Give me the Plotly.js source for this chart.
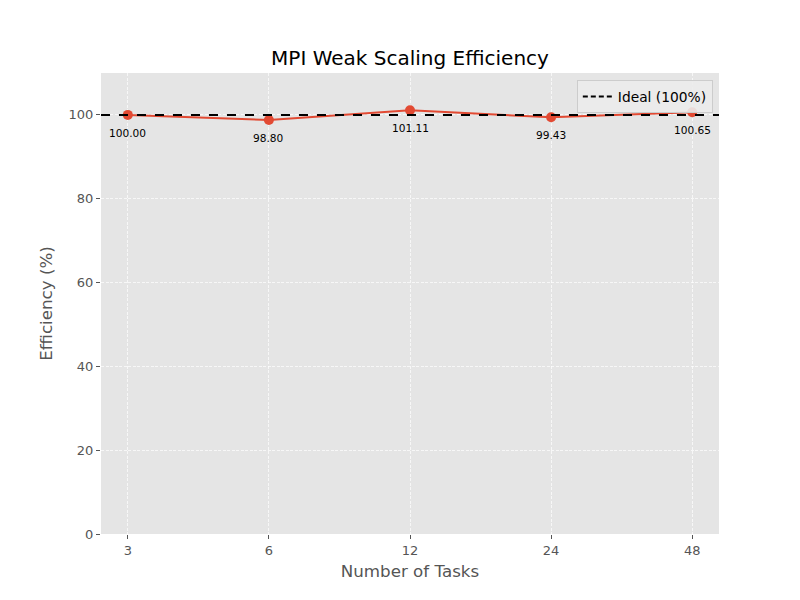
<!DOCTYPE html>
<html>
<head>
<meta charset="utf-8">
<script src="https://cdn.plot.ly/plotly-3.0.1.min.js"></script>
<style>html,body{margin:0;padding:0;background:#fff;}#chart{width:800px;height:600px;}</style>
</head>
<body>
<div id="chart"></div>
<script>
const tasks = [3, 6, 12, 24, 48];
const efficiency = [100.00, 98.80, 101.11, 99.43, 100.65];
const idealValue = 100;
const idealName = 'Ideal (100%)';
const yTicks = [0, 20, 40, 60, 80, 100];

const lineTrace = {
  x: tasks, y: efficiency, type: 'scatter', mode: 'lines+markers',
  line: {color: '#E24A33', width: 2},
  marker: {color: '#E24A33', size: 10},
  showlegend: false, hoverinfo: 'x+y'
};
const idealLegend = {
  x: [null], y: [null], type: 'scatter', mode: 'lines',
  name: idealName, line: {color: 'black', width: 2, dash: '5px,3px'}, showlegend: true
};

const log2 = Math.log10(2);
const xr = [Math.log10(tasks[0]) - 0.19 * log2, Math.log10(tasks[tasks.length-1]) + 0.19 * log2];

const annotations = tasks.map((t, i) => ({
  x: Math.log10(t), y: efficiency[i], xref: 'x', yref: 'y',
  text: efficiency[i].toFixed(2), showarrow: false, yshift: -18,
  font: {family: 'DejaVu Sans', size: 10.6, color: 'black'}
}));

const layout = {
  width: 800, height: 600,
  paper_bgcolor: 'white', plot_bgcolor: '#E5E5E5',
  margin: {l: 101, r: 81, t: 73, b: 66},
  font: {family: 'DejaVu Sans', color: '#555555'},
  title: {text: 'MPI Weak Scaling Efficiency', font: {size: 20, color: 'black', family: 'DejaVu Sans'}, xref: 'paper', x: 0.5, xanchor: 'center', y: 1 - 58/600, yanchor: 'middle'},
  xaxis: {
    type: 'log', range: xr, tickvals: tasks, ticktext: tasks.map(String),
    showgrid: true, gridcolor: 'white', gridwidth: 0.7, griddash: '3px,1.5px',
    ticks: 'outside', ticklen: 4, tickcolor: '#555555', zeroline: false, showline: false,
    tickfont: {size: 13, color: '#555555'},
    title: {text: 'Number of Tasks', font: {size: 16.7, color: '#555555'}, standoff: 8}
  },
  yaxis: {
    range: [0, 110], tickvals: yTicks,
    showgrid: true, gridcolor: 'white', gridwidth: 0.7, griddash: '3px,1.5px',
    ticks: 'outside', ticklen: 4, tickcolor: '#555555', zeroline: false, showline: false,
    tickfont: {size: 13, color: '#555555'},
    title: {text: 'Efficiency (%)', font: {size: 16.7, color: '#555555'}, standoff: 11}
  },
  shapes: [{type: 'line', xref: 'paper', x0: 0, x1: 1, yref: 'y', y0: idealValue, y1: idealValue,
    line: {color: 'black', width: 2, dash: 'dash'}, layer: 'above'}],
  annotations: annotations,
  legend: {x: 0.99, y: 0.985, xanchor: 'right', yanchor: 'top', bgcolor: 'rgba(235,235,235,0.9)',
    bordercolor: '#CCCCCC', borderwidth: 1, font: {size: 13.8, color: 'black'}}
};

Plotly.newPlot('chart', [lineTrace, idealLegend], layout, {displayModeBar: false, staticPlot: true});
</script>
</body>
</html>
